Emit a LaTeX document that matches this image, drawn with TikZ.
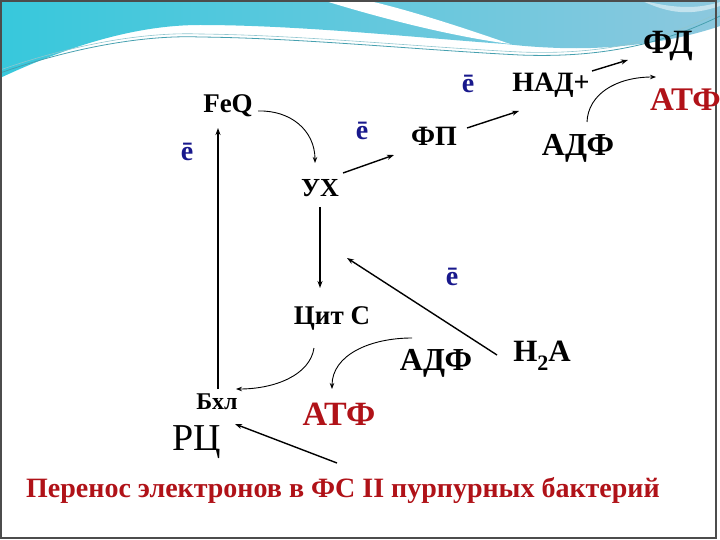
\documentclass[tikz,border=0pt]{standalone}
\usepackage{fontspec}
\setmainfont{Liberation Serif}
\usetikzlibrary{arrows.meta}
\definecolor{myred}{RGB}{176,18,24}
\definecolor{eblue}{RGB}{24,24,140}
\definecolor{teal1}{RGB}{70,160,175}
\newcommand{\fs}[1]{\fontsize{#1}{#1}\selectfont}
\begin{document}
\begin{tikzpicture}[x=1pt,y=-1pt,
  lbl/.style={inner sep=0pt,font=\bfseries},
  arr/.style={line width=1.4pt,-{Stealth[length=7pt,width=5pt]}},
  carr/.style={line width=0.9pt,-{Stealth[length=6pt,width=4.5pt]}},
  ebar/.style={inner sep=0pt,font=\bfseries\fs{28},text=eblue}]
\useasboundingbox (0,0) rectangle (720,540);
% header
\shade[left color={rgb,255:red,55;green,200;blue,220}, right color={rgb,255:red,140;green,200;blue,222}]
  (0,0) -- (720,0) -- (720,26) .. controls (680,40) and (620,50) .. (560,48)
  .. controls (530,47) and (515,45) .. (505,44)
  .. controls (420,38) and (300,25) .. (200,25)
  .. controls (130,25) and (60,50) .. (0,78) -- cycle;
\fill[white] (322,0) .. controls (380,18) and (450,36) .. (510,44)
  .. controls (470,30) and (410,10) .. (365,0) -- cycle;
\fill[white, opacity=0.5] (640,0) .. controls (680,10) and (700,8) .. (720,2) -- (720,6) .. controls (690,16) and (670,14) .. (640,0) -- cycle;
\draw[teal1, line width=0.8pt] (0,73) .. controls (80,45) and (150,35) .. (200,37)
  .. controls (300,38) and (420,50) .. (520,55) .. controls (600,58) and (660,45) .. (720,16);
\draw[teal1!60, line width=0.6pt] (0,70) .. controls (80,42) and (150,32) .. (200,34)
  .. controls (300,35) and (420,47) .. (520,52) .. controls (600,55) and (660,42) .. (720,12);
% frame
\draw[black!70, line width=1.5pt] (1,1) rectangle (716,538);
% labels
\node[lbl,font=\bfseries\fs{34}] (fd) at (668,46) {ФД};
\node[lbl,font=\bfseries\fs{28}] (nad) at (551,85) {НАД+};
\node[ebar] (e1) at (468,84) {ē};
\node[lbl,font=\bfseries\fs{33},text=myred,anchor=west] (atf1) at (650,100) {АТФ};
\node[lbl,font=\bfseries\fs{28}] (fp) at (434,136) {ФП};
\node[lbl,font=\bfseries\fs{32}] (adf1) at (578,148) {АДФ};
\node[ebar] (e2) at (362,131) {ē};
\node[lbl,font=\bfseries\fs{27}] (feq) at (228,106) {FeQ};
\node[ebar] (e3) at (187,152) {ē};
\node[lbl,font=\bfseries\fs{26}] (ux) at (320,188) {УХ};
\node[lbl,font=\bfseries\fs{27}] (cit) at (332,318) {Цит С};
\node[ebar] (e4) at (452,277) {ē};
\node[lbl,font=\bfseries\fs{32}] (adf2) at (436,363) {АДФ};
\node[lbl,font=\bfseries\fs{31}] (h2a) at (542,356) {H\raisebox{-0.3em}{\fs{22}2}A};
\node[lbl,font=\bfseries\fs{24}] (bxl) at (217,402) {Бхл};
\node[inner sep=0pt,font=\fs{38}] (rc) at (197,442) {РЦ};
\node[lbl,font=\bfseries\fs{34},text=myred] (atf2) at (339,414) {АТФ};
\node[lbl,font=\bfseries\fs{28},text=myred] (title) at (343,490) {Перенос электронов в ФС II пурпурных бактерий};
% connector endpoints
\coordinate (v0) at (218,389);
\coordinate (v1) at (218,128);
\coordinate (a0) at (258,111);
\coordinate (a1) at (315,163);
\coordinate (b0) at (343,173);
\coordinate (b1) at (394,155);
\coordinate (c0) at (467,128);
\coordinate (c1) at (519,111);
\coordinate (d0) at (592,71);
\coordinate (d1) at (628,60);
\coordinate (f0) at (587,122);
\coordinate (f1) at (656,77);
\coordinate (g0) at (320,207);
\coordinate (g1) at (320,288);
\coordinate (h0) at (497,355);
\coordinate (h1) at (347,258);
\coordinate (i0) at (314,348);
\coordinate (i1) at (236,389);
\coordinate (j0) at (412,338);
\coordinate (j1) at (332,389);
\coordinate (k0) at (337,463);
\coordinate (k1) at (235,424);
% connectors
\draw[arr] (v0) -- (v1);
\draw[carr] (a0) .. controls (290,110) and (315,130) .. (a1);
\draw[arr] (b0) -- (b1);
\draw[arr] (c0) -- (c1);
\draw[arr] (d0) -- (d1);
\draw[carr] (f0) .. controls (588,95) and (615,77) .. (f1);
\draw[arr] (g0) -- (g1);
\draw[arr] (h0) -- (h1);
\draw[carr] (i0) .. controls (310,375) and (275,389) .. (i1);
\draw[carr] (j0) .. controls (370,338) and (332,355) .. (j1);
\draw[arr] (k0) -- (k1);
\end{tikzpicture}
\end{document}
